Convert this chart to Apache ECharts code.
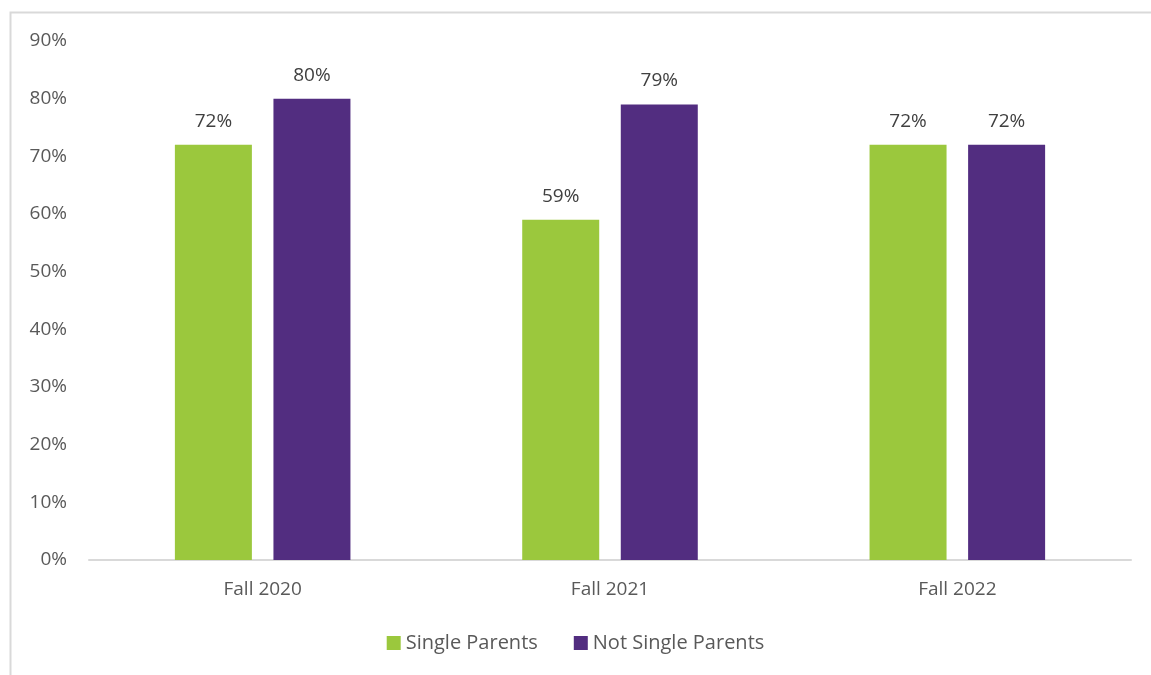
<!DOCTYPE html>
<html>
<head>
<meta charset="utf-8">
<script src="https://cdn.jsdelivr.net/npm/echarts@6/dist/echarts.min.js"></script>
<style>
  html, body { margin: 0; padding: 0; background: #ffffff; }
  #chart { width: 1151px; height: 675px; }
</style>
</head>
<body>
<div id="chart"></div>
<script>
// Share of students, by term and parent status
const categories = ['Fall 2020', 'Fall 2021', 'Fall 2022'];
const singleParents = [72, 59, 72];
const notSingleParents = [80, 79, 72];
const seriesNames = ['Single Parents', 'Not Single Parents'];

const FONT = '"Open Sans", Lato, sans-serif';
const TEXT = '#595959';

const chart = echarts.init(document.getElementById('chart'));

const labelStyle = {
  show: true,
  position: 'top',
  distance: 14,
  formatter: p => p.value + '%',
  color: '#404040',
  fontSize: 19,
  fontFamily: FONT
};

chart.setOption({
  animation: false,
  backgroundColor: '#ffffff',
  graphic: [{
    type: 'rect',
    left: 8, top: 10,
    shape: { width: 1160, height: 700 },
    style: { fill: 'none', stroke: '#d9d9d9', lineWidth: 2 },
    silent: true
  }],
  grid: { left: 89, right: 20, top: 41, bottom: 115 },
  legend: {
    data: seriesNames,
    bottom: 17,
    left: 'center',
    itemWidth: 14,
    itemHeight: 14,
    itemGap: 36,
    icon: 'rect',
    textStyle: { color: TEXT, fontSize: 20, fontFamily: FONT }
  },
  xAxis: {
    type: 'category',
    data: categories,
    axisLine: { lineStyle: { color: '#d9d9d9', width: 2 } },
    axisTick: { show: false },
    axisLabel: { color: TEXT, fontSize: 19, fontFamily: FONT, margin: 20 }
  },
  yAxis: {
    type: 'value',
    min: 0,
    max: 90,
    interval: 10,
    splitLine: { show: false },
    axisLine: { show: false },
    axisTick: { show: false },
    axisLabel: {
      color: TEXT, fontSize: 19, fontFamily: FONT, margin: 22,
      formatter: v => v + '%'
    }
  },
  series: [
    {
      name: seriesNames[0],
      type: 'bar',
      data: singleParents,
      barWidth: 77,
      barGap: '28%',
      itemStyle: { color: '#9BC83D' },
      label: labelStyle
    },
    {
      name: seriesNames[1],
      type: 'bar',
      data: notSingleParents,
      barWidth: 77,
      barGap: '28%',
      itemStyle: { color: '#522D80' },
      label: labelStyle
    }
  ]
});
</script>
</body>
</html>
